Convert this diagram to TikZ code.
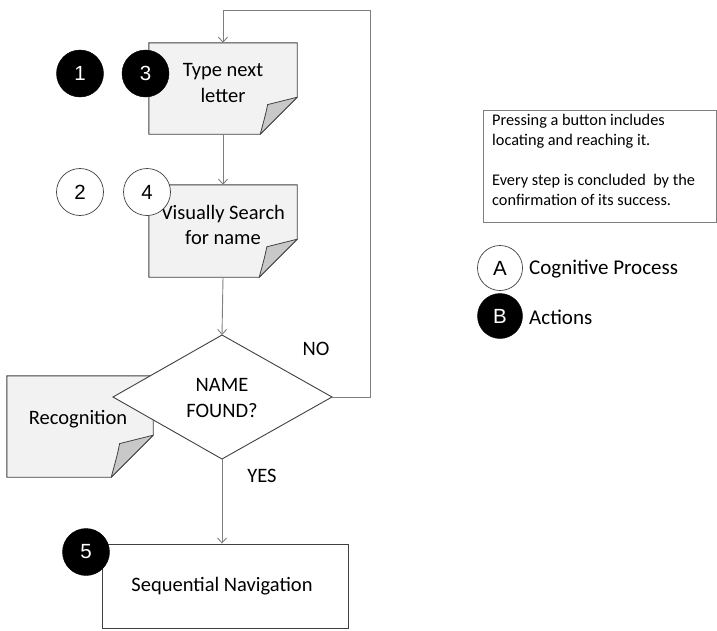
\documentclass[tikz,border=0pt]{standalone}
\usepackage{fontspec}
\setmainfont{Carlito}
\newfontfamily\digitfont{Liberation Sans}
\usetikzlibrary{arrows.meta,shapes.geometric,backgrounds}

\definecolor{pagegray}{HTML}{F2F2F2}
\definecolor{foldgray}{HTML}{C8C8C8}
\definecolor{edge}{HTML}{404040}
\definecolor{wire}{HTML}{7F7F7F}

% page with a curled lower right corner, drawn from the anchors of an empty node
\newcommand\curlpage[2]{%
  \filldraw[fill=pagegray, draw=edge, line width=0.9pt]
    (#1.north west) -- (#1.north east) -- ([yshift=#2pt]#1.south east)
    -- ([xshift=-#2pt]#1.south east) -- (#1.south west) -- cycle;
  \filldraw[fill=foldgray, draw=edge, line width=0.8pt, line join=round]
    ([yshift=#2pt]#1.south east)
    -- ([xshift=-0.8*#2pt, yshift=0.8*#2pt]#1.south east)
    .. controls ([xshift=-0.85*#2pt, yshift=0.55*#2pt]#1.south east)
    .. ([xshift=-#2pt]#1.south east) -- cycle;
}

\begin{document}
\begin{tikzpicture}[x=1pt, y=-1pt,
  maintext/.style={font=\fontsize{20.5}{25.5}\selectfont, align=center, inner sep=0pt},
  notetext/.style={font=\fontsize{16.3}{20}\selectfont, align=left, inner sep=0pt, anchor=north west},
  pagenode/.style={rectangle, inner sep=0pt},
  plainbox/.style={rectangle, draw=edge, line width=0.9pt, fill=white, inner sep=0pt},
  actdot/.style={circle, fill=black, draw=black, minimum size=47pt, inner sep=0pt,
    text=white, font=\digitfont\fontsize{20.5}{24}\selectfont},
  cogdot/.style={circle, fill=white, draw=edge, line width=0.7pt, minimum size=47pt, inner sep=0pt,
    font=\digitfont\fontsize{20.5}{24}\selectfont},
  flow/.style={draw=wire, line width=0.9pt, -{Straight Barb[length=5pt, width=9pt]}},
]
\useasboundingbox (0,0) rectangle (717,630);

% pages of the flow
\node[pagenode, minimum width=148pt, minimum height=91pt] (typebox) at (223,88.5) {};
\curlpage{typebox}{37}
\node[maintext] (typetext) at (223,83) {Type next\\letter};

\node[pagenode, minimum width=148pt, minimum height=92pt] (searchbox) at (223,231) {};
\curlpage{searchbox}{38}
\node[maintext] (searchtext) at (223,225) {Visually Search\\for name};

\node[pagenode, minimum width=146pt, minimum height=101pt] (recogbox) at (80,426.5) {};
\curlpage{recogbox}{42}
\node[maintext] (recogtext) at (78,419) {Recognition};

% decision
\coordinate (dtop) at (222,335);
\coordinate (dright) at (332,397);
\coordinate (dbottom) at (222,459);
\coordinate (dleft) at (113,397);
\filldraw[fill=white, draw=edge, line width=0.9pt] (dtop) -- (dright) -- (dbottom) -- (dleft) -- cycle;
\node[maintext] (found) at (222,398) {NAME\\FOUND?};

% end step
\node[plainbox, minimum width=246pt, minimum height=84pt] (seqnav) at (225,586) {};
\node[maintext] (seqtext) at (222,586) {Sequential Navigation};

% connectors
\draw[flow] (typebox.south) -- (searchbox.north);
\draw[flow] (searchbox.south) -- (dtop);
\draw[flow] (dbottom) -- (dbottom |- seqnav.north);
\coordinate (loopright) at (370,10);
\draw[flow] (dright) -| (loopright) -| (typebox.north);

\node[maintext] (nolabel) at (316,349) {NO};
\node[maintext] (yeslabel) at (262,476) {YES};

% step numbers
\node[actdot] (one) at (80,73.5) {1};
\node[actdot] (three) at (145.5,73.5) {3};
\node[cogdot] (two) at (80,192) {2};
\node[cogdot] (four) at (147,192) {4};
\node[actdot] (five) at (86,552) {5};

% remarks
\node[rectangle, draw=wire, line width=0.9pt, minimum width=233pt, minimum height=112pt] (notebox) at (600,166) {};
\node[notetext] (notetext) at (492,114)
  {Pressing a button includes\\locating and reaching it.\\[20pt]Every step is concluded\ \ by the\\confirmation of its success.};

% legend
\node[cogdot, minimum size=45pt] (legA) at (500,268) {A};
\node[maintext, font=\fontsize{21}{25}\selectfont, anchor=west] (legAtext) at (529,269.5) {Cognitive Process};
\node[actdot, minimum size=45pt] (legB) at (500,316) {B};
\node[maintext, font=\fontsize{21}{25}\selectfont, anchor=west] (legBtext) at (529,317.5) {Actions};
\end{tikzpicture}
\end{document}
